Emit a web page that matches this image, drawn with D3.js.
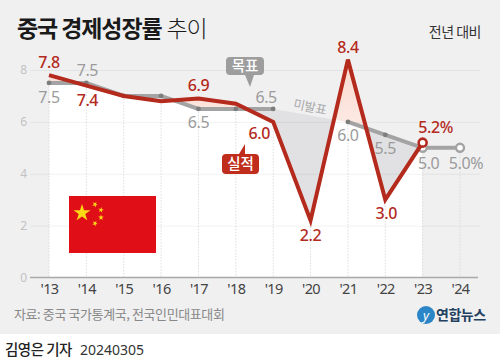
<!DOCTYPE html>
<html>
<head>
<meta charset="utf-8">
<script src="https://cdn.jsdelivr.net/npm/d3@7"></script>
<style>
  html, body { margin: 0; padding: 0; background: #fff; }
  svg { display: block; font-family: "Noto Sans CJK KR", "Noto Sans", sans-serif; }
</style>
</head>
<body>
<div id="chart"></div>
<script>
const years = [2013, 2014, 2015, 2016, 2017, 2018, 2019, 2020, 2021, 2022, 2023, 2024];
const actualValues = [7.8, 7.4, 7.0, 6.8, 6.9, 6.7, 6.0, 2.2, 8.4, 3.0, 5.2, null];
const targetValues = [7.5, 7.5, 7.0, 7.0, 6.5, 6.5, 6.5, null, 6.0, 5.5, 5.0, 5.0];
const yTicks = [0, 2, 4, 6, 8];

// which points get a label, and where it sits relative to the point
const actualLabels = [
  { year: 2013, dx: 0, dy: -13 }, { year: 2014, dx: 1, dy: 15 }, { year: 2017, dx: 0, dy: -13 },
  { year: 2019, dx: -14, dy: 11 }, { year: 2020, dx: 0, dy: 15 }, { year: 2021, dx: 0, dy: -12 },
  { year: 2022, dx: 1, dy: 14 }, { year: 2023, dx: 13, dy: -15, suffix: '%' },
];
const targetLabels = [
  { year: 2013, dx: 0, dy: 14 }, { year: 2014, dx: 1, dy: -13 }, { year: 2017, dx: 0, dy: 13 },
  { year: 2019, dx: -7, dy: -12 }, { year: 2021, dx: 0, dy: 13 }, { year: 2022, dx: 0, dy: 13 },
  { year: 2023, dx: 6, dy: 15 }, { year: 2024, dx: 6, dy: 15, suffix: '%' },
];

const width = 500, height = 364;
const RED = '#b42a1c', GREY = '#a3a3a3', GREY_TEXT = '#9b9b9b', BG = '#f0f0f1';

const svg = d3.select('#chart').append('svg').attr('width', width).attr('height', height);
const defs = svg.append('defs');

svg.append('rect').attr('width', width).attr('height', 334).attr('fill', BG);

const x = d3.scalePoint().domain(years).range([49, 460]);
const y = d3.scaleLinear().domain([0, 8]).range([277.5, 70]);

const actual = years.map((year, i) => ({ year, value: actualValues[i] })).filter(d => d.value !== null);
const target = years.map((year, i) => ({ year, value: targetValues[i] }));
const targetKnown = target.filter(d => d.value !== null);
const targetUntil23 = targetKnown.filter(d => d.year <= 2023);

// clip regions either side of the target line
const aboveTarget = d3.area().x(d => x(d.year)).y0(0).y1(d => y(d.value));
const belowTarget = d3.area().x(d => x(d.year)).y0(y(0)).y1(d => y(d.value));
defs.append('clipPath').attr('id', 'clip-above').append('path').attr('d', aboveTarget(targetUntil23));
defs.append('clipPath').attr('id', 'clip-below').append('path').attr('d', belowTarget(targetUntil23));

const underActual = d3.area().x(d => x(d.year)).y0(y(0)).y1(d => y(d.value));
const overActual = d3.area().x(d => x(d.year)).y0(0).y1(d => y(d.value));

const redFade = defs.append('linearGradient').attr('id', 'red-fade')
  .attr('gradientUnits', 'userSpaceOnUse').attr('x1', 0).attr('x2', 0).attr('y1', y(8.4)).attr('y2', y(6));
redFade.append('stop').attr('offset', 0).attr('stop-color', '#f9d8cd');
redFade.append('stop').attr('offset', 1).attr('stop-color', '#fde9e2');

svg.append('path').attr('d', underActual(actual)).attr('clip-path', 'url(#clip-below)').attr('fill', '#fff');
svg.append('path').attr('d', underActual(actual)).attr('clip-path', 'url(#clip-above)').attr('fill', 'url(#red-fade)');
svg.append('path').attr('d', overActual(actual)).attr('clip-path', 'url(#clip-below)').attr('fill', '#e1e1e3');

// horizontal grid + y labels
const yAxis = svg.append('g').attr('transform', 'translate(30,0)')
  .call(d3.axisLeft(y).tickValues(yTicks).tickSize(0).tickPadding(3).tickFormat(d3.format('d')));
yAxis.select('.domain').remove();
yAxis.selectAll('text').attr('fill', '#c2c2c2').attr('font-size', 12).attr('font-family', '"Noto Sans", sans-serif');
yAxis.selectAll('.tick').filter(d => d > 0).append('line')
  .attr('x1', 0).attr('x2', 450).attr('stroke', '#000').attr('stroke-opacity', 0.055);

// dotted verticals run from the lower of the two series down to the axis
svg.append('g').selectAll('line').data(years).join('line')
  .attr('x1', d => x(d)).attr('x2', d => x(d))
  .attr('y1', (d, i) => {
    const vals = [actualValues[i], targetValues[i]].filter(v => v !== null);
    return y(d3.min(vals));
  })
  .attr('y2', y(0))
  .attr('stroke', '#d4d4d6').attr('stroke-width', 0.8).attr('stroke-dasharray', '1.5 1.5');

// x axis
const xAxis = svg.append('g').attr('transform', `translate(0,${y(0)})`)
  .call(d3.axisBottom(x).tickSize(0).tickPadding(6).tickFormat(d => `'${String(d).slice(2)}`));
xAxis.select('.domain').remove();
xAxis.selectAll('text').attr('fill', '#444').attr('font-size', 14.5).attr('letter-spacing', '-0.6px')
  .attr('font-family', '"Noto Sans", sans-serif');
svg.append('line').attr('x1', 30).attr('x2', 478).attr('y1', y(0)).attr('y2', y(0))
  .attr('stroke', '#a9a9a9').attr('stroke-width', 1.6);

// target line
const line = d3.line().defined(d => d.value !== null).x(d => x(d.year)).y(d => y(d.value));
svg.append('path').datum(target).attr('d', line).attr('fill', 'none')
  .attr('stroke', GREY).attr('stroke-width', 4);
svg.append('g').selectAll('circle').data(targetKnown.filter(d => d.year < 2023)).join('circle')
  .attr('cx', d => x(d.year)).attr('cy', d => y(d.value)).attr('r', 2.4).attr('fill', '#7d7d7d');
svg.append('g').selectAll('circle').data(targetKnown.filter(d => d.year >= 2023)).join('circle')
  .attr('cx', d => x(d.year)).attr('cy', d => y(d.value)).attr('r', 4)
  .attr('fill', '#fff').attr('stroke', GREY).attr('stroke-width', 2.4);

// actual line
svg.append('path').datum(actual).attr('d', line).attr('fill', 'none')
  .attr('stroke', RED).attr('stroke-width', 4).attr('stroke-linejoin', 'miter');
const lastActual = actual[actual.length - 1];
svg.append('circle').attr('cx', x(lastActual.year)).attr('cy', y(lastActual.value)).attr('r', 4)
  .attr('fill', '#fff').attr('stroke', RED).attr('stroke-width', 2.6);

// value labels
function drawLabels(labels, values, color, weight) {
  svg.append('g').selectAll('text').data(labels).join('text')
    .attr('x', d => x(d.year) + d.dx)
    .attr('y', d => y(values[years.indexOf(d.year)]) + d.dy)
    .attr('dy', '0.36em')
    .attr('text-anchor', 'middle')
    .attr('fill', color).attr('font-size', 16).attr('font-weight', weight)
    .attr('letter-spacing', '-0.4px')
    .attr('font-family', '"Noto Sans", sans-serif')
    .text(d => values[years.indexOf(d.year)].toFixed(1) + (d.suffix || ''));
}
drawLabels(targetLabels, targetValues, GREY_TEXT, 400);
drawLabels(actualLabels, actualValues, RED, 500);

svg.append('text').attr('transform', 'translate(310,107) rotate(12)')
  .attr('text-anchor', 'middle').attr('dy', '0.36em')
  .attr('fill', '#aaa').attr('font-size', 12.5).attr('letter-spacing', '-0.3px').text('미발표');

// callouts
svg.append('path').attr('d', 'M230 57h30a4 4 0 0 1 4 4v10a4 4 0 0 1-4 4h-6l-4 12-5-12h-15a4 4 0 0 1-4-4v-10a4 4 0 0 1 4-4z')
  .attr('fill', '#9d9d9d');
svg.append('text').attr('x', 245).attr('y', 66).attr('dy', '0.36em').attr('text-anchor', 'middle')
  .attr('fill', '#fff').attr('font-size', 14.5).attr('font-weight', 500).text('목표');
svg.append('path').attr('d', 'M226 154h13l6-10v10h10a4 4 0 0 1 4 4v12a4 4 0 0 1-4 4h-29a4 4 0 0 1-4-4v-12a4 4 0 0 1 4-4z')
  .attr('fill', '#c02d1d');
svg.append('text').attr('x', 240.5).attr('y', 164).attr('dy', '0.36em').attr('text-anchor', 'middle')
  .attr('fill', '#fff').attr('font-size', 14.5).attr('font-weight', 500).text('실적');

// flag
const flag = svg.append('g').attr('transform', 'translate(69,196)');
flag.append('rect').attr('width', 87).attr('height', 57).attr('fill', '#e00f17');
const star = (cx, cy, r, rot) => {
  const pts = d3.range(10).map(i => {
    const a = rot + i * Math.PI / 5 - Math.PI / 2;
    const rr = i % 2 ? r * 0.382 : r;
    return [cx + rr * Math.cos(a), cy + rr * Math.sin(a)];
  });
  flag.append('polygon').attr('points', pts.join(' ')).attr('fill', '#fbd914');
};
star(13, 17, 9, 0);
star(26, 8.5, 3, 0.5);
star(32, 14, 3, 0.2);
star(32, 21.5, 3, 0);
star(26, 27.5, 3, 0.5);

// titles and footers
const title = svg.append('text').attr('x', 17).attr('y', 37).attr('font-size', 23).attr('letter-spacing', '-1.1px').attr('fill', '#1a1a1a');
title.append('tspan').attr('font-weight', 700).text('중국 경제성장률');
title.append('tspan').attr('font-weight', 300).attr('dx', 5).text('추이');

svg.append('text').attr('x', 481).attr('y', 37).attr('text-anchor', 'end')
  .attr('font-size', 14).attr('letter-spacing', '-0.5px').attr('fill', '#333').text('전년 대비');

svg.append('text').attr('x', 14).attr('y', 319).attr('font-size', 13).attr('letter-spacing', '-0.4px')
  .attr('fill', '#888').text('자료: 중국 국가통계국, 전국인민대표대회');

svg.append('circle').attr('cx', 426).attr('cy', 315).attr('r', 9).attr('fill', '#2a86c6');
svg.append('text').attr('x', 426).attr('y', 315).attr('dy', '0.36em').attr('text-anchor', 'middle')
  .attr('fill', '#fff').attr('font-size', 13).attr('font-style', 'italic').attr('font-family', '"Noto Sans", sans-serif').text('y');
svg.append('text').attr('x', 436).attr('y', 320).attr('font-size', 14).attr('font-weight', 700).attr('letter-spacing', '-0.5px')
  .attr('fill', '#24405f').text('연합뉴스');

svg.append('text').attr('x', 5).attr('y', 355).attr('font-size', 14.5).attr('font-weight', 500).attr('letter-spacing', '-0.5px')
  .attr('fill', '#222').text('김영은 기자');
svg.append('text').attr('x', 80).attr('y', 355).attr('font-size', 14).attr('fill', '#333')
  .attr('font-family', '"Noto Sans", sans-serif').text('20240305');
</script>
</body>
</html>
